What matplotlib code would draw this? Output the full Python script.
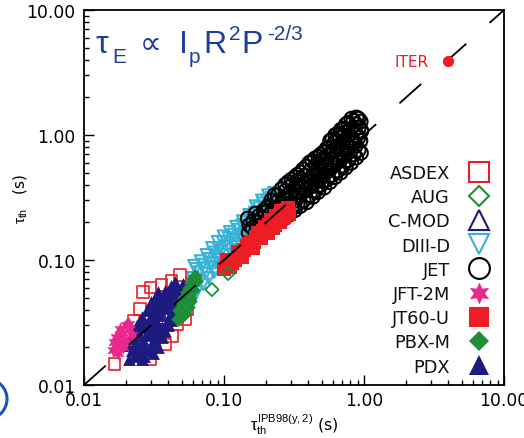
import matplotlib
matplotlib.use("Agg")
import matplotlib.pyplot as plt
from matplotlib.patches import Ellipse
from matplotlib.ticker import FixedLocator, FixedFormatter

plt.rcParams['font.family'] = ['DejaVu Sans']
plt.rcParams['mathtext.fontset'] = 'custom'
plt.rcParams['mathtext.rm'] = 'Liberation Sans'
plt.rcParams['mathtext.it'] = 'Liberation Sans'
plt.rcParams['mathtext.fallback'] = 'stixsans'
plt.rcParams['lines.scale_dashes'] = False

# ---- confinement times (s): x = IPB98(y,2) prediction, y = experiment ----
JET_X = [0.150, 0.152, 0.148, 0.170, 0.172, 0.168, 0.190, 0.186, 0.193,
         0.210, 0.214, 0.207, 0.235, 0.232, 0.238, 0.230, 0.260, 0.256, 0.264, 0.258,
         0.290, 0.286, 0.295, 0.288, 0.320, 0.325, 0.316, 0.322, 0.350, 0.345, 0.356, 0.352,
         0.390, 0.385, 0.396, 0.388, 0.430, 0.425, 0.436, 0.428, 0.470, 0.476, 0.465, 0.472,
         0.520, 0.514, 0.527, 0.518, 0.570, 0.565, 0.578, 0.566, 0.574,
         0.620, 0.614, 0.628, 0.617, 0.624, 0.680, 0.673, 0.688, 0.676, 0.684,
         0.740, 0.733, 0.748, 0.736, 0.745, 0.810, 0.802, 0.818, 0.806, 0.814,
         0.880, 0.872, 0.888, 0.876, 0.884, 0.950, 0.942, 0.958, 0.946,
         0.160, 0.162, 0.180, 0.178, 0.200, 0.198, 0.203, 0.220, 0.222, 0.218,
         0.245, 0.248, 0.242, 0.275, 0.272, 0.278, 0.274, 0.305, 0.302, 0.308, 0.304,
         0.335, 0.332, 0.338, 0.334, 0.370, 0.366, 0.374, 0.368, 0.410, 0.405, 0.414, 0.408,
         0.450, 0.446, 0.455, 0.448, 0.495, 0.490, 0.500, 0.493, 0.545, 0.540, 0.550, 0.543,
         0.595, 0.590, 0.600, 0.593, 0.650, 0.645, 0.655, 0.648, 0.710, 0.705, 0.716, 0.708,
         0.775, 0.770, 0.780, 0.772, 0.845, 0.840, 0.850, 0.842, 0.915, 0.910, 0.920, 0.912]
JET_Y = [0.165, 0.190, 0.215, 0.170, 0.200, 0.235, 0.180, 0.215, 0.250,
         0.190, 0.230, 0.270, 0.200, 0.245, 0.290, 0.330, 0.210, 0.260, 0.310, 0.370,
         0.230, 0.280, 0.340, 0.420, 0.250, 0.300, 0.370, 0.460, 0.270, 0.330, 0.400, 0.500,
         0.290, 0.360, 0.440, 0.560, 0.320, 0.390, 0.480, 0.620, 0.350, 0.430, 0.530, 0.670,
         0.380, 0.470, 0.580, 0.730, 0.420, 0.520, 0.640, 0.800, 0.900,
         0.460, 0.570, 0.700, 0.870, 1.000, 0.500, 0.620, 0.770, 0.950, 1.100,
         0.550, 0.680, 0.840, 1.040, 1.220, 0.600, 0.740, 0.920, 1.120, 1.350,
         0.660, 0.820, 1.000, 1.220, 1.380, 0.720, 0.900, 1.080, 1.280,
         0.180, 0.205, 0.190, 0.225, 0.205, 0.240, 0.260, 0.210, 0.250, 0.300,
         0.225, 0.270, 0.330, 0.240, 0.300, 0.360, 0.400, 0.260, 0.320, 0.400, 0.440,
         0.280, 0.350, 0.430, 0.480, 0.300, 0.380, 0.470, 0.530, 0.330, 0.420, 0.520, 0.600,
         0.360, 0.460, 0.570, 0.650, 0.400, 0.500, 0.620, 0.700, 0.440, 0.550, 0.680, 0.780,
         0.480, 0.600, 0.750, 0.920, 0.520, 0.660, 0.820, 1.020, 0.570, 0.720, 0.900, 1.120,
         0.630, 0.800, 1.000, 1.250, 0.700, 0.880, 1.100, 1.300, 0.760, 0.950, 1.150, 1.350]

DIIID_X = [0.054, 0.057, 0.060, 0.061, 0.064, 0.066, 0.068, 0.071, 0.073, 0.075,
           0.078, 0.080, 0.082, 0.085, 0.088, 0.090, 0.093, 0.096, 0.099, 0.102,
           0.106, 0.110, 0.114, 0.118, 0.122, 0.127, 0.131, 0.136, 0.141, 0.146,
           0.151, 0.157, 0.162, 0.168, 0.174, 0.180, 0.186, 0.192, 0.199, 0.206,
           0.213, 0.220, 0.228, 0.236, 0.245, 0.255, 0.265, 0.275, 0.288, 0.300,
           0.315, 0.325, 0.112, 0.140,
           0.056, 0.059, 0.063, 0.067, 0.070, 0.074, 0.077, 0.081, 0.084, 0.087,
           0.091, 0.095, 0.098, 0.104, 0.108, 0.112, 0.117, 0.121, 0.126, 0.130,
           0.135, 0.139, 0.145, 0.150, 0.155, 0.160, 0.166, 0.172, 0.178, 0.184,
           0.190, 0.196, 0.203, 0.210, 0.218, 0.225, 0.233, 0.242, 0.250, 0.260,
           0.270, 0.282, 0.295, 0.310]
DIIID_Y = [0.050, 0.060, 0.072, 0.090, 0.056, 0.080, 0.098, 0.064, 0.086, 0.110,
           0.072, 0.095, 0.125, 0.080, 0.105, 0.140, 0.088, 0.118, 0.155, 0.095,
           0.130, 0.168, 0.100, 0.142, 0.185, 0.110, 0.155, 0.205, 0.120, 0.170,
           0.230, 0.130, 0.188, 0.270, 0.145, 0.210, 0.300, 0.160, 0.235, 0.330,
           0.175, 0.260, 0.345, 0.190, 0.290, 0.205, 0.320, 0.220, 0.250, 0.235,
           0.255, 0.245, 0.088, 0.105,
           0.055, 0.066, 0.085, 0.068, 0.092, 0.078, 0.102, 0.088, 0.115, 0.095,
           0.125, 0.100, 0.140, 0.110, 0.150, 0.120, 0.160, 0.128, 0.175, 0.135,
           0.190, 0.145, 0.200, 0.150, 0.215, 0.160, 0.240, 0.170, 0.260, 0.180,
           0.285, 0.190, 0.300, 0.200, 0.315, 0.215, 0.300, 0.230, 0.270, 0.240,
           0.280, 0.235, 0.265, 0.240]

JT60U_X = [0.100, 0.105, 0.110, 0.120, 0.130, 0.140, 0.145, 0.155, 0.160, 0.170,
           0.180, 0.190, 0.200, 0.210, 0.220, 0.230, 0.240, 0.250, 0.260, 0.270,
           0.280, 0.230, 0.250, 0.275,
           0.105, 0.115, 0.125, 0.135, 0.150, 0.165, 0.175, 0.185, 0.195, 0.205,
           0.215, 0.225, 0.235, 0.245, 0.255, 0.265, 0.285, 0.290]
JT60U_Y = [0.085, 0.092, 0.088, 0.100, 0.110, 0.120, 0.130, 0.140, 0.125, 0.150,
           0.160, 0.170, 0.180, 0.190, 0.200, 0.210, 0.220, 0.230, 0.240, 0.220,
           0.250, 0.190, 0.200, 0.235,
           0.100, 0.095, 0.115, 0.105, 0.135, 0.140, 0.165, 0.150, 0.185, 0.165,
           0.210, 0.180, 0.225, 0.200, 0.245, 0.215, 0.260, 0.235]

PDX_X = [0.021, 0.022, 0.023, 0.024, 0.025, 0.025, 0.026, 0.027, 0.027, 0.028,
         0.029, 0.029, 0.030, 0.031, 0.031, 0.032, 0.033, 0.033, 0.034, 0.035,
         0.035, 0.036, 0.037, 0.038, 0.039, 0.040, 0.041, 0.042, 0.043, 0.044,
         0.045, 0.046, 0.047, 0.048, 0.050, 0.051, 0.052, 0.024, 0.022, 0.030,
         0.021, 0.023, 0.023, 0.025, 0.026, 0.026, 0.028, 0.028, 0.030, 0.030,
         0.032, 0.032, 0.034, 0.034, 0.036, 0.036, 0.038, 0.038, 0.040, 0.040,
         0.042, 0.042, 0.044, 0.045, 0.047, 0.049, 0.049, 0.052, 0.027, 0.031, 0.034]
PDX_Y = [0.016, 0.019, 0.017, 0.021, 0.018, 0.025, 0.016, 0.022, 0.029, 0.019,
         0.025, 0.033, 0.021, 0.028, 0.038, 0.023, 0.031, 0.044, 0.026, 0.036,
         0.050, 0.029, 0.041, 0.056, 0.032, 0.047, 0.036, 0.062, 0.041, 0.053,
         0.067, 0.046, 0.058, 0.040, 0.052, 0.064, 0.048, 0.030, 0.024, 0.042,
         0.021, 0.023, 0.027, 0.031, 0.020, 0.035, 0.026, 0.040, 0.030, 0.046,
         0.034, 0.050, 0.039, 0.055, 0.045, 0.024, 0.050, 0.027, 0.055, 0.030,
         0.045, 0.033, 0.060, 0.038, 0.050, 0.045, 0.060, 0.056, 0.017, 0.018, 0.020]

CMOD_X = [0.026, 0.031, 0.037, 0.042]
CMOD_Y = [0.021, 0.027, 0.034, 0.044]

PBXM_X = [0.047, 0.049, 0.050, 0.051, 0.052, 0.053, 0.054, 0.055, 0.056, 0.057,
          0.058, 0.059, 0.060, 0.061, 0.063, 0.062, 0.048, 0.050, 0.052, 0.054,
          0.056, 0.058, 0.060, 0.053, 0.055, 0.057]
PBXM_Y = [0.034, 0.038, 0.042, 0.036, 0.046, 0.041, 0.050, 0.045, 0.055, 0.050,
          0.060, 0.065, 0.058, 0.070, 0.068, 0.074, 0.040, 0.045, 0.050, 0.055,
          0.060, 0.066, 0.070, 0.038, 0.042, 0.047]

JFT2M_X = [0.016, 0.017, 0.0175, 0.018, 0.019, 0.019, 0.020, 0.021, 0.022, 0.021,
           0.017, 0.018, 0.0165, 0.020, 0.0185]
JFT2M_Y = [0.019, 0.021, 0.018, 0.023, 0.020, 0.026, 0.022, 0.028, 0.025, 0.031,
           0.024, 0.028, 0.022, 0.030, 0.025]

ASDEX_X = [0.0166, 0.0196, 0.0203, 0.0225, 0.0251, 0.0264, 0.030, 0.036, 0.042,
           0.0485, 0.0462, 0.0526, 0.0425, 0.038, 0.055, 0.030]
ASDEX_Y = [0.0147, 0.0213, 0.0265, 0.033, 0.0405, 0.0555, 0.060, 0.063, 0.068,
           0.076, 0.0308, 0.0337, 0.0247, 0.021, 0.040, 0.016]

AUG_X = [0.082, 0.107]
AUG_Y = [0.058, 0.078]

ITER_X = [4.0]
ITER_Y = [3.9]

DEVICES = ["ASDEX", "AUG", "C-MOD", "DIII-D", "JET", "JFT-2M", "JT60-U", "PBX-M", "PDX"]
TICKS = [0.01, 0.1, 1.0, 10.0]
TICK_LABELS = ["0.01", "0.10", "1.00", "10.00"]

RED = '#ee1c24'
GREEN = '#1f8e3a'
NAVY = '#1d1a80'
CYAN = '#38b2d8'
MAGENTA = '#e8288c'
BLUE = '#1c3f9e'

star6 = (6, 1, 0)

fig = plt.figure(figsize=(5.24, 4.39), dpi=100)
ax = fig.add_axes([0.1603, 0.1207, 0.8015, 0.8542])
ax.set_xscale('log')
ax.set_yscale('log')
ax.set_xlim(0.01, 10)
ax.set_ylim(0.01, 10)

ax.scatter(DIIID_X, DIIID_Y, s=70, marker='v', facecolors='none', edgecolors=CYAN, linewidths=1.5, zorder=2)
ax.scatter(JET_X, JET_Y, s=100, marker='o', facecolors='none', edgecolors='black', linewidths=1.5, zorder=3)
ax.scatter(JT60U_X, JT60U_Y, s=90, marker='s', color=RED, linewidths=0, zorder=4)
ax.scatter(AUG_X, AUG_Y, s=45, marker='D', facecolors='none', edgecolors=GREEN, linewidths=1.3, zorder=4)
ax.scatter(ASDEX_X, ASDEX_Y, s=65, marker='s', facecolors='none', edgecolors=RED, linewidths=1.2, zorder=2.5)
ax.scatter(PDX_X, PDX_Y, s=85, marker='^', color=NAVY, linewidths=0, zorder=3)
ax.scatter(CMOD_X, CMOD_Y, s=60, marker='^', facecolors='none', edgecolors=NAVY, linewidths=1.2, zorder=3)
ax.scatter(PBXM_X, PBXM_Y, s=55, marker='D', color=GREEN, linewidths=0, zorder=4)
ax.scatter(JFT2M_X, JFT2M_Y, s=100, marker=star6, color=MAGENTA, linewidths=0, zorder=4)

# unity line
ax.plot([0.01, 10], [0.01, 10], color='black', lw=1.3, dashes=(21, 22.5), zorder=6)

# ITER projection
ax.scatter(ITER_X, ITER_Y, s=65, marker='o', color=RED, linewidths=0, zorder=7)
ax.annotate("ITER", (ITER_X[0], ITER_Y[0]), xytext=(-14.5, 0), textcoords='offset points',
            color=RED, fontsize=11, ha='right', va='center')

# scaling law, set piece by piece: (text, left x px, baseline y px, size)
TITLE_PARTS = [("\u03c4", 96, 53, 23), ("E", 112, 63, 15), ("\u221d", 140, 53, 22),
               ("I", 179, 53, 23), ("p", 189, 63, 15), ("R", 203, 53, 23),
               ("2", 229, 40, 15), ("P", 241, 53, 23), ("-2/3", 267, 40, 15)]
for txt, px, py, fs in TITLE_PARTS:
    ax.text((px - 84) / 420.0, (386 - py) / 375.0, txt, transform=ax.transAxes,
            color=BLUE, fontsize=fs, ha='left', va='baseline',
            family=['Liberation Sans', 'DejaVu Sans'])

# axes styling
for sp in ax.spines.values():
    sp.set_linewidth(1.3)
ax.xaxis.set_major_locator(FixedLocator(TICKS))
ax.yaxis.set_major_locator(FixedLocator(TICKS))
ax.xaxis.set_major_formatter(FixedFormatter(TICK_LABELS))
ax.yaxis.set_major_formatter(FixedFormatter(TICK_LABELS))
ax.tick_params(which='both', direction='in', top=False, right=False, width=1.0, labelsize=12.3)
ax.tick_params(which='major', length=7.5)
ax.tick_params(which='minor', length=3.8)
ax.tick_params(axis='y', pad=6)
ax.tick_params(axis='x', pad=4)

ax.set_xlabel(r'$\tau_{\mathrm{th}}^{\mathrm{IPB98(y,2)}}$ (s)', fontsize=11.5, labelpad=2)
ax.set_ylabel(r'$\tau_{\mathrm{th}}$   (s)', fontsize=11)
ax.yaxis.set_label_coords(-0.132, 0.5)

# legend, labels right-aligned beside the marker column
leg_style = {
    "ASDEX": dict(marker='s', ms=15, mfc='none', mec=RED, mew=1.5),
    "AUG": dict(marker='D', ms=10.5, mfc='none', mec=GREEN, mew=1.5),
    "C-MOD": dict(marker='^', ms=15, mfc='none', mec=NAVY, mew=1.5),
    "DIII-D": dict(marker='v', ms=15, mfc='none', mec=CYAN, mew=1.5),
    "JET": dict(marker='o', ms=15, mfc='none', mec='black', mew=1.5),
    "JFT-2M": dict(marker=star6, ms=16, mfc=MAGENTA, mec=MAGENTA, mew=0),
    "JT60-U": dict(marker='s', ms=15, mfc=RED, mec=RED, mew=0),
    "PBX-M": dict(marker='D', ms=10.5, mfc=GREEN, mec=GREEN, mew=0),
    "PDX": dict(marker='^', ms=15, mfc=NAVY, mec=NAVY, mew=0),
}
row0 = (386 - 172.5) / 375.0
step = 24.2 / 375.0
for i, name in enumerate(DEVICES):
    yy = row0 - i * step
    ax.text(0.871, yy - 6.5 / 375.0, name, transform=ax.transAxes, fontsize=12.8,
            ha='right', va='baseline', color='#111111')
    ax.plot([0.940], [yy], transform=ax.transAxes, ls='none', clip_on=False, **leg_style[name])

# partial panel badge at the left edge
fig.add_artist(Ellipse((-13 / 524, (439 - 400) / 439), 40 / 524, 40 / 439,
                       transform=fig.transFigure, fill=False, edgecolor='#1f4fc4', lw=2.2))

fig.savefig("out.png", dpi=100)
